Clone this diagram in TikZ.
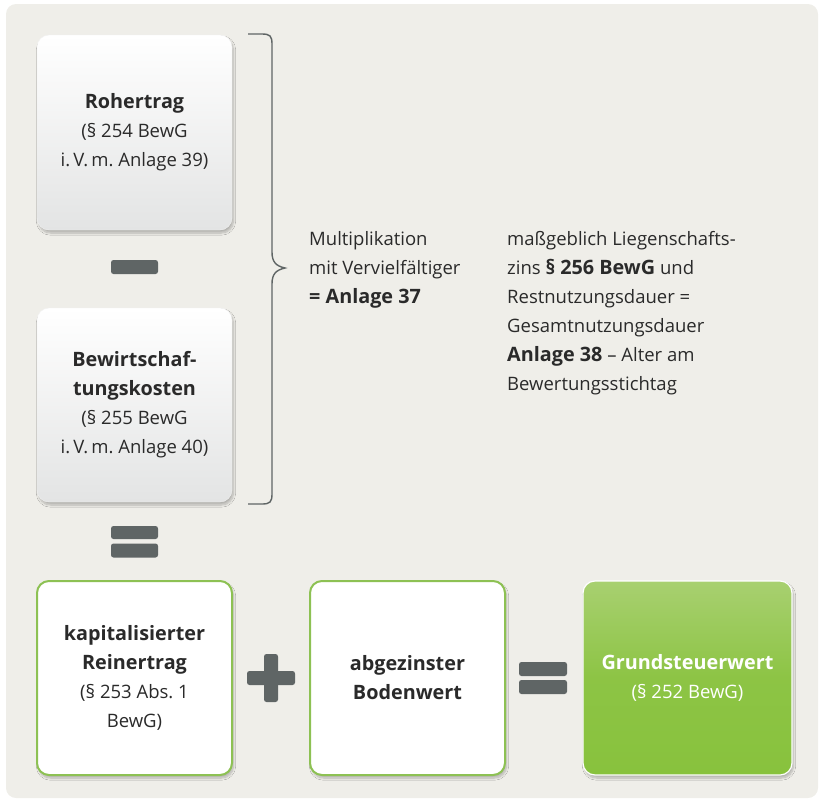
\documentclass[tikz,border=0pt]{standalone}
\usepackage{fontspec}
\setmainfont{Open Sans}
\usetikzlibrary{shadows.blur}
\frenchspacing
\definecolor{panel}{HTML}{EFEEE9}
\definecolor{opgray}{HTML}{5F6565}
\definecolor{boxgreen}{HTML}{8DC153}
\definecolor{gtop}{HTML}{A8D070}
\definecolor{gbot}{HTML}{88C23D}
\definecolor{graybot}{HTML}{E3E4E4}
\definecolor{txt}{HTML}{2A2A2A}
\newcommand{\bt}[1]{{\fontsize{19.8}{29}\selectfont\bfseries #1}}
\tikzset{
  boxtext/.style={font=\fontsize{18.5}{29}\selectfont, align=center, text=txt},
  graybox/.style={boxtext, rounded corners=12pt, minimum width=195pt, minimum height=195pt,
    top color=white, bottom color=graybot, draw=white!90!gray, line width=0.4pt,
    blur shadow={shadow xshift=1.5pt, shadow yshift=-3pt, shadow opacity=25, shadow blur steps=8}},
  greenbox/.style={boxtext, rounded corners=12pt, minimum width=195pt, minimum height=194pt,
    fill=white, draw=boxgreen, line width=2pt,
    blur shadow={shadow xshift=1.5pt, shadow yshift=-3pt, shadow opacity=25, shadow blur steps=8}},
  resultbox/.style={boxtext, text=white, rounded corners=12pt, minimum width=209pt, minimum height=194pt,
    top color=gtop, bottom color=gbot, middle color=gbot!85!gtop, draw=white, line width=1.2pt,
    blur shadow={shadow xshift=1.5pt, shadow yshift=-3pt, shadow opacity=25, shadow blur steps=8}},
  opbar/.style={fill=opgray, rounded corners=2.5pt, inner sep=0pt},
  sidetext/.style={font=\fontsize{18.5}{29}\selectfont, align=left, text=txt, inner sep=0pt, anchor=west},
}
\begin{document}
\begin{tikzpicture}[x=1pt, y=-1pt]
\useasboundingbox (0,0) rectangle (822,801);
\fill[panel, rounded corners=10pt] (6,4) rectangle (818,798);

\node[graybox] (roh) at (134.5,132.5) {\bt{Rohertrag}\\(§ 254 BewG\\i.\,V.\,m. Anlage 39)};
\node[graybox, minimum height=194pt] (bew) at (134.5,405) {\bt{Bewirtschaf-}\\\bt{tungskosten}\\(§ 255 BewG\\i.\,V.\,m. Anlage 40)};

\node[opbar, minimum width=47pt, minimum height=14pt] (minus) at (134.5,267) {};
\node[opbar, minimum width=47pt, minimum height=13pt] (eqa) at (134.5,532.5) {};
\node[opbar, minimum width=47pt, minimum height=14pt] (eqb) at (134.5,550.5) {};

\draw[opgray, line width=1.4pt] (248,34) -- (262,34) .. controls (270,34) and (272,36) .. (272,44)
  -- (272,252) .. controls (272,262) and (276,266) .. (285,268)
  .. controls (276,270) and (272,274) .. (272,284)
  -- (272,494) .. controls (272,502) and (270,504) .. (262,504) -- (248,504);

\node[sidetext] (mult) at (309,270) {Multiplikation\\mit Vervielfältiger\\\bt{= Anlage 37}};
\node[sidetext] (liz) at (507,313) {maßgeblich Liegenschafts-\\zins \bt{§ 256 BewG} und\\Restnutzungsdauer =\\Gesamtnutzungsdauer\\\bt{Anlage 38} – Alter am\\Bewertungsstichtag};

\node[greenbox] (kap) at (134.5,678) {\bt{kapitalisierter}\\\bt{Reinertrag}\\(§ 253 Abs. 1\\BewG)};
\node[opbar, minimum width=48pt, minimum height=14pt] (plush) at (271,678) {};
\node[opbar, minimum width=14pt, minimum height=48pt] (plusv) at (271,678) {};
\node[greenbox] (boden) at (407.5,678) {\bt{abgezinster}\\\bt{Bodenwert}};
\node[opbar, minimum width=48pt, minimum height=14pt] (eqc) at (543,669) {};
\node[opbar, minimum width=48pt, minimum height=14pt] (eqd) at (543,687) {};
\node[resultbox] (grund) at (687.5,678) {\bt{Grundsteuerwert}\\(§ 252 BewG)};
\end{tikzpicture}
\end{document}
